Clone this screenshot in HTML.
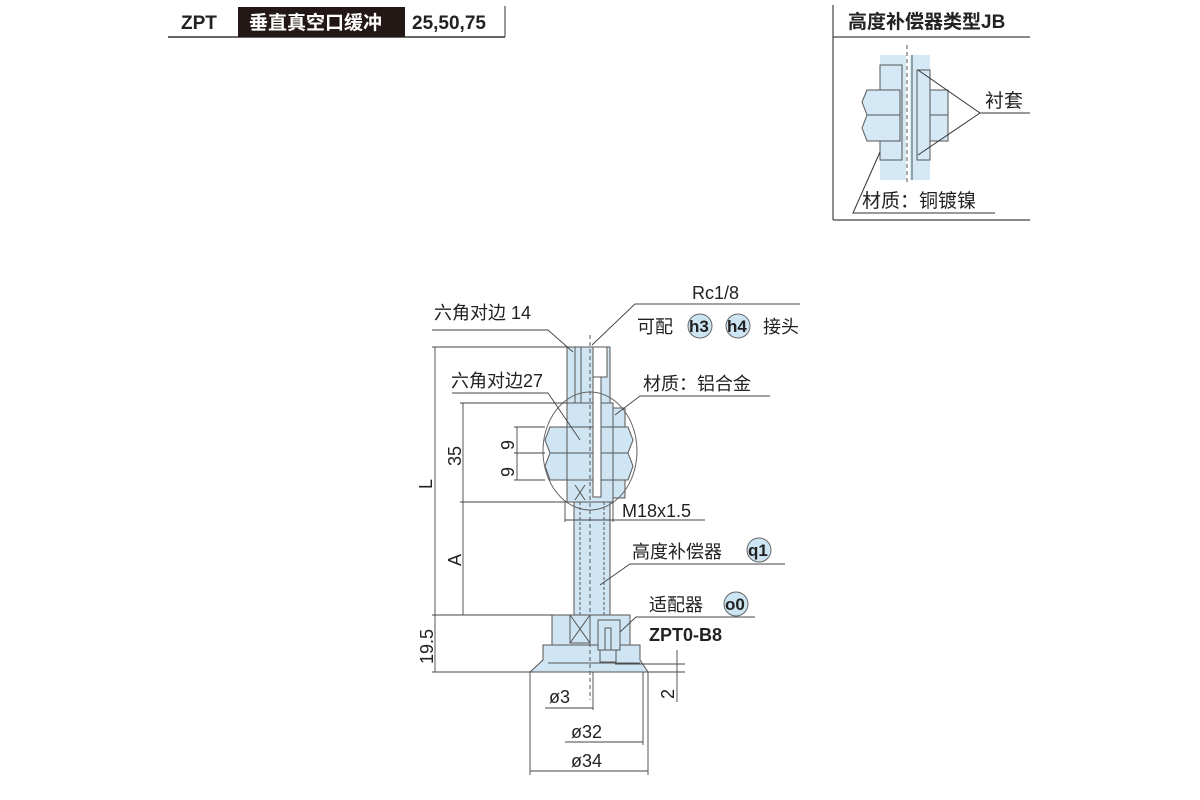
<!DOCTYPE html>
<html><head><meta charset="utf-8"><style>
html,body{margin:0;padding:0;background:#fff;}
svg{display:block;}
text{font-family:"Liberation Sans","Noto Sans CJK SC",sans-serif;fill:#222;}
</style></head><body>
<svg width="1200" height="800" viewBox="0 0 1200 800" xmlns="http://www.w3.org/2000/svg">
<!-- header -->
<line x1="168" y1="37" x2="505" y2="37" stroke="#333" stroke-width="1.5"/>
<line x1="505" y1="6" x2="505" y2="37" stroke="#333" stroke-width="1"/>
<rect x="238" y="7" width="167" height="30" fill="#231815"/>
<text x="181" y="29" font-size="19" font-weight="bold">ZPT</text>
<text x="249" y="29" font-size="19" font-weight="bold" style="fill:#fff">垂直真空口缓冲</text>
<text x="412" y="29" font-size="19" font-weight="bold">25,50,75</text>

<!-- inset -->
<g stroke="#444" stroke-width="1.2" fill="none">
<line x1="833" y1="5" x2="833" y2="220"/>
<line x1="833" y1="37" x2="1030" y2="37"/>
<line x1="833" y1="220" x2="1030" y2="220"/>
</g>
<text x="848" y="28" font-size="19" font-weight="bold">高度补偿器类型JB</text>
<g stroke="#555" stroke-width="1" fill="#d4e9f5">
<rect x="880" y="55" width="26" height="125" stroke="none"/>
<rect x="910" y="55" width="20" height="125" stroke="none"/>
<rect x="880" y="65" width="22" height="95"/>
<polygon points="867,90 862,102 867,115 900,115 900,90"/>
<polygon points="867,115 862,128 867,141 900,141 900,115"/>
<rect x="917" y="70" width="13" height="90"/>
<rect x="930" y="90" width="18" height="51"/>
<line x1="930" y1="115" x2="948" y2="115"/>
<line x1="912" y1="55" x2="912" y2="180" fill="none"/>
</g>
<line x1="907" y1="45" x2="907" y2="185" stroke="#555" stroke-dasharray="4,3"/>
<g stroke="#333" stroke-width="1" fill="none">
<polyline points="918,70 980,113 1030,113"/>
<line x1="918" y1="155" x2="980" y2="113"/>
<polyline points="880,152 853,213 995,213"/>
</g>
<text x="985" y="107" font-size="19">衬套</text>
<text x="862" y="207" font-size="19">材质：铜镀镍</text>

<!-- main drawing -->
<g stroke="#555" stroke-width="1" fill="#cfe5f3">
<!-- base -->
<polygon points="543,645 640,645 640,660 648,672 530,672 543,660"/>
<rect x="552" y="615" width="78" height="30"/>
<line x1="548" y1="663" x2="640" y2="663" fill="none"/>
<rect x="570" y="615" width="20" height="28" fill="none"/>
<line x1="570" y1="615" x2="590" y2="643"/><line x1="590" y1="615" x2="570" y2="643"/>
<rect x="598" y="620" width="22" height="30" fill="#cfe5f3"/>
<rect x="605" y="628" width="6" height="22"/>
<rect x="600" y="650" width="16" height="12"/>
<!-- rod -->
<rect x="574" y="502" width="36" height="113"/>
<line x1="580" y1="502" x2="580" y2="615" stroke-dasharray="3,2" fill="none"/>
<line x1="604" y1="502" x2="604" y2="615" stroke-dasharray="3,2" fill="none"/>
<!-- body -->
<rect x="567" y="403" width="46" height="99"/>
<rect x="613" y="408" width="12" height="90"/>
<line x1="575" y1="485" x2="585" y2="500"/><line x1="585" y1="485" x2="575" y2="500"/>
<!-- nuts -->
<polygon points="550,427 545,440 550,453 628,453 633,440 628,427"/>
<polygon points="550,453 545,466 550,480 628,480 633,466 628,453"/>
<line x1="567" y1="427" x2="567" y2="480" fill="none"/>
<line x1="613" y1="427" x2="613" y2="480" fill="none"/>
<!-- top fitting -->
<rect x="567" y="347" width="43" height="56"/>
<rect x="575" y="347" width="6" height="56" fill="none"/>
<rect x="593" y="347" width="14" height="30" fill="#fff"/>
<rect x="593" y="377" width="8" height="120" fill="#fff"/>
</g>
<ellipse cx="590" cy="451" rx="47" ry="59" fill="none" stroke="#666" stroke-width="1"/>
<line x1="590" y1="335" x2="590" y2="700" stroke="#555" stroke-dasharray="4,3"/>

<g stroke="#444" stroke-width="0.9" fill="none">
<line x1="432" y1="347" x2="567" y2="347"/>
<line x1="435" y1="347" x2="435" y2="672"/>
<line x1="460" y1="403" x2="567" y2="403"/>
<line x1="463" y1="403" x2="463" y2="615"/>
<line x1="460" y1="502" x2="567" y2="502"/>
<line x1="432" y1="615" x2="552" y2="615"/>
<line x1="432" y1="672" x2="530" y2="672"/>
<line x1="514" y1="427" x2="545" y2="427"/>
<line x1="514" y1="453" x2="545" y2="453"/>
<line x1="514" y1="480" x2="545" y2="480"/>
<line x1="517" y1="427" x2="517" y2="480"/>
<polyline points="432,330 548,330 573,352"/>
<polyline points="800,304 635,304 592,345"/>
<polyline points="452,393 548,393 580,440"/>
<polyline points="770,396 640,396 615,415"/>
<line x1="565" y1="502" x2="565" y2="522"/>
<line x1="613" y1="502" x2="613" y2="522"/>
<line x1="565" y1="520" x2="705" y2="520"/>
<polyline points="785,564 630,564 600,585"/>
<polyline points="755,617 636,617 620,632"/>
<line x1="615" y1="664" x2="685" y2="664"/>
<line x1="648" y1="672" x2="685" y2="672"/>
<line x1="677" y1="650" x2="677" y2="702"/>
<line x1="545" y1="708" x2="593" y2="708"/>
<line x1="593" y1="672" x2="593" y2="710"/>
<line x1="530" y1="672" x2="530" y2="775"/>
<line x1="643" y1="672" x2="643" y2="745"/>
<line x1="648" y1="672" x2="648" y2="775"/>
<line x1="565" y1="742" x2="643" y2="742"/>
<line x1="530" y1="771" x2="648" y2="771"/>
</g>

<g font-size="18">
<text x="434" y="319">六角对边 14</text>
<text x="692" y="299">Rc1/8</text>
<text x="637" y="333">可配</text>
<circle cx="700" cy="326" r="12" fill="#cde5f3" stroke="#666"/>
<text x="689" y="332" font-weight="bold" font-size="17">h3</text>
<circle cx="738" cy="326" r="12" fill="#cde5f3" stroke="#666"/>
<text x="727" y="332" font-weight="bold" font-size="17">h4</text>
<text x="763" y="333">接头</text>
<text x="451" y="387">六角对边27</text>
<text x="643" y="390">材质：铝合金</text>
<text x="622" y="517">M18x1.5</text>
<text x="632" y="558">高度补偿器</text>
<circle cx="759" cy="550" r="12" fill="#cde5f3" stroke="#666"/>
<text x="748" y="556" font-weight="bold" font-size="17">q1</text>
<text x="649" y="611">适配器</text>
<circle cx="736" cy="604" r="12" fill="#cde5f3" stroke="#666"/>
<text x="725" y="610" font-weight="bold" font-size="17">o0</text>
<text x="649" y="641" font-weight="bold">ZPT0-B8</text>
<text x="549" y="703">ø3</text>
<text x="571" y="738">ø32</text>
<text x="571" y="767">ø34</text>
<text transform="translate(432,489) rotate(-90)">L</text>
<text transform="translate(461,466) rotate(-90)">35</text>
<text transform="translate(461,566) rotate(-90)">A</text>
<text transform="translate(433,664) rotate(-90)">19.5</text>
<text transform="translate(514,450) rotate(-90)">9</text>
<text transform="translate(514,477) rotate(-90)">9</text>
<text transform="translate(674,699) rotate(-90)">2</text>
</g>
</svg>
</body></html>
